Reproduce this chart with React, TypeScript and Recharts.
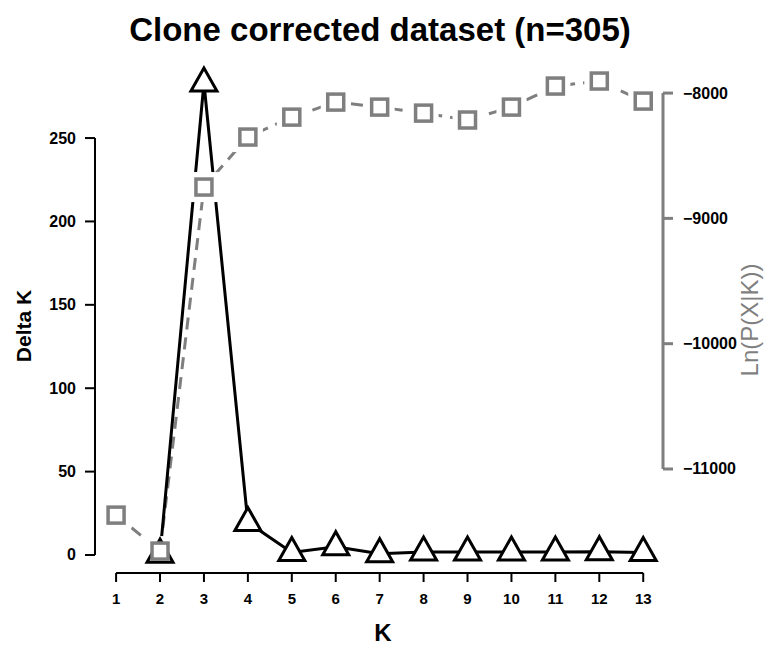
import { ComposedChart, Line, XAxis, YAxis, ReferenceLine } from 'recharts'

const kValues = [1, 2, 3, 4, 5, 6, 7, 8, 9, 10, 11, 12, 13]
const deltaK = [null, 0.5, 283, 19.5, 1.5, 5, 0.8, 1.8, 1.8, 1.8, 1.8, 2, 1.5]
const lnPK = [-11368, -11655, -8750, -8351, -8192, -8072, -8112, -8160, -8215, -8112, -7944, -7904, -8064]
const leftTicks = [0, 50, 100, 150, 200, 250]
const rightTicks = [-11000, -10000, -9000, -8000]

const X_DOMAIN: [number, number] = [0.52, 13.45]
const LEFT_DOMAIN: [number, number] = [-10.8, 295]
const RIGHT_DOMAIN: [number, number] = [-11830, -7760]

const GRAY = '#7f7f7f'
const FONT = '"Liberation Sans", Arial, sans-serif'

const data = kValues.map((k, i) => ({ k, delta: deltaK[i], ln: lnPK[i] }))

const Triangle = (props: any) => {
  const { cx, cy, index } = props
  if (cx == null || cy == null || props.value == null) return <g key={`t-${index}`} />
  return (
    <polygon
      key={`t-${index}`}
      points={`${cx},${cy - 15} ${cx - 13},${cy + 8} ${cx + 13},${cy + 8}`}
      fill="#fff"
      stroke="#000"
      strokeWidth={3}
      strokeLinejoin="miter"
    />
  )
}

// white box behind each square so the dashed line stops short of it
const GapMask = (props: any) => {
  const { cx, cy, index } = props
  if (cx == null || cy == null) return <g key={`m-${index}`} />
  return <rect key={`m-${index}`} x={cx - 15} y={cy - 15} width={30} height={30} fill="#fff" />
}

const Square = (props: any) => {
  const { cx, cy, index } = props
  if (cx == null || cy == null) return <g key={`s-${index}`} />
  return (
    <rect
      key={`s-${index}`}
      x={cx - 8}
      y={cy - 8}
      width={16}
      height={16}
      fill="#fff"
      stroke={GRAY}
      strokeWidth={3.5}
    />
  )
}

const fmtMinus = (v: number) => String(v).replace('-', '\u2212')

const XTick = ({ x, y, payload }: any) => (
  <text x={x} y={y} dy={12} textAnchor="middle" fontSize={15} fontWeight="bold" fill="#000">
    {payload.value}
  </text>
)

const LeftTick = ({ x, y, payload }: any) => (
  <text x={x} y={y} dy={5.5} textAnchor="end" fontSize={16} fontWeight="bold" fill="#000">
    {payload.value}
  </text>
)

const RightTick = ({ x, y, payload }: any) => (
  <text x={x} y={y} dy={5.5} textAnchor="start" fontSize={16} fontWeight="bold" fill="#000">
    {fmtMinus(payload.value)}
  </text>
)

export default function App() {
  return (
    <div style={{ position: 'relative', width: 766, height: 651, fontFamily: FONT, background: '#fff' }}>
      <style>{'body{margin:0}'}</style>
      <div
        style={{
          position: 'absolute',
          top: 11,
          left: 0,
          width: 760,
          textAlign: 'center',
          fontSize: 33,
          fontWeight: 'bold',
          color: '#000',
        }}
      >
        Clone corrected dataset (n=305)
      </div>

      <ComposedChart
        width={766}
        height={651}
        data={data}
        margin={{ top: 63, right: 13, bottom: 38, left: 0 }}
      >
        <XAxis
          dataKey="k"
          type="number"
          domain={X_DOMAIN}
          ticks={kValues}
          allowDataOverflow
          height={40}
          axisLine={false}
          tickLine={{ stroke: '#000', strokeWidth: 2 }}
          tickSize={9}
          tickMargin={10}
          tick={<XTick />}
        />
        <YAxis
          yAxisId="left"
          domain={LEFT_DOMAIN}
          ticks={leftTicks}
          allowDataOverflow
          width={95}
          axisLine={false}
          tickLine={{ stroke: '#000', strokeWidth: 2 }}
          tickSize={10}
          tickMargin={9}
          tick={<LeftTick />}
        />
        <YAxis
          yAxisId="right"
          orientation="right"
          domain={RIGHT_DOMAIN}
          ticks={rightTicks}
          allowDataOverflow
          width={90}
          axisLine={false}
          tickLine={{ stroke: GRAY, strokeWidth: 3 }}
          tickSize={10}
          tickMargin={10}
          tick={<RightTick />}
        />

        <ReferenceLine
          yAxisId="left"
          segment={[{ x: 1, y: LEFT_DOMAIN[0] }, { x: 13, y: LEFT_DOMAIN[0] }]}
          stroke="#000"
          strokeWidth={2}
          ifOverflow="visible"
        />
        <ReferenceLine
          yAxisId="left"
          segment={[{ x: X_DOMAIN[0], y: 0 }, { x: X_DOMAIN[0], y: 250 }]}
          stroke="#000"
          strokeWidth={2}
          ifOverflow="visible"
        />
        <ReferenceLine
          yAxisId="right"
          segment={[{ x: X_DOMAIN[1], y: -11000 }, { x: X_DOMAIN[1], y: -8000 }]}
          stroke={GRAY}
          strokeWidth={3}
          ifOverflow="visible"
        />

        <Line
          yAxisId="right"
          dataKey="ln"
          stroke={GRAY}
          strokeWidth={3}
          strokeDasharray="12 8"
          dot={GapMask}
          activeDot={false}
          isAnimationActive={false}
        />
        <Line
          yAxisId="left"
          dataKey="delta"
          stroke="#000"
          strokeWidth={3}
          dot={Triangle}
          activeDot={false}
          isAnimationActive={false}
        />
        <Line
          yAxisId="right"
          dataKey="ln"
          stroke="none"
          dot={Square}
          activeDot={false}
          isAnimationActive={false}
        />
      </ComposedChart>

      <div
        style={{
          position: 'absolute',
          left: 24,
          top: 326,
          transform: 'translate(-50%, -50%) rotate(-90deg)',
          fontSize: 21,
          fontWeight: 'bold',
          whiteSpace: 'nowrap',
          color: '#000',
        }}
      >
        Delta K
      </div>
      <div
        style={{
          position: 'absolute',
          left: 750,
          top: 320,
          transform: 'translate(-50%, -50%) rotate(-90deg)',
          fontSize: 24,
          whiteSpace: 'nowrap',
          color: GRAY,
        }}
      >
        Ln(P(X|K))
      </div>
      <div
        style={{
          position: 'absolute',
          left: 0,
          width: 766,
          top: 619,
          textAlign: 'center',
          fontSize: 24,
          fontWeight: 'bold',
          color: '#000',
        }}
      >
        K
      </div>
    </div>
  )
}
